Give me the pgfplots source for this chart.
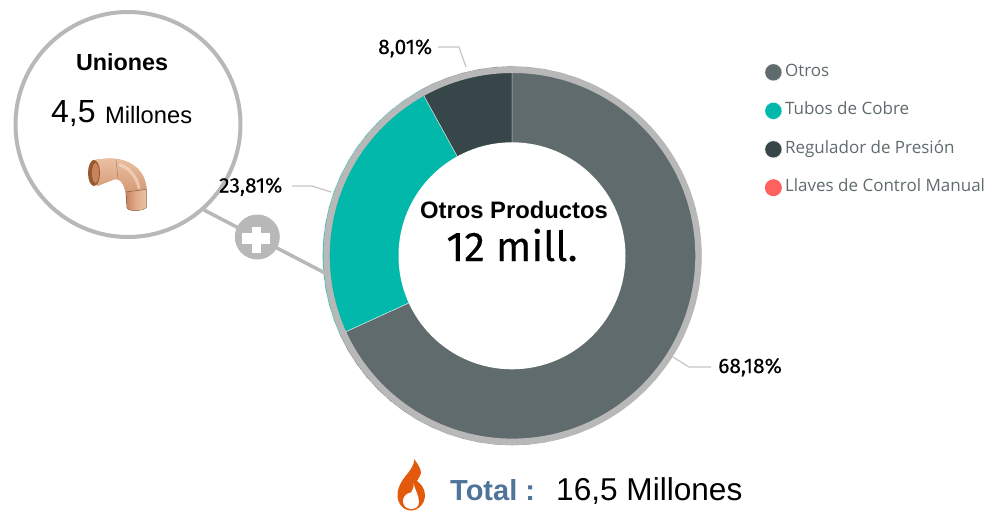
\documentclass[border=0pt]{standalone}
\usepackage{pgfplots}
\pgfplotsset{compat=1.18}
\usepgfplotslibrary{polar}
\usepackage{fontspec}
\setmainfont{Liberation Sans}
\newfontfamily\din[FakeBold=0.2]{Fira Sans}
\newfontfamily\legfont{Open Sans}
\definecolor{otros}{HTML}{5F6B6D}
\definecolor{tubos}{HTML}{01B8AA}
\definecolor{regul}{HTML}{374649}
\definecolor{llaves}{HTML}{FD625E}
\definecolor{anillo}{HTML}{B8B8B8}
\definecolor{guia}{HTML}{C4C4C4}
\definecolor{totalc}{HTML}{4F7499}
\definecolor{cobreA}{HTML}{EBC0A2}
\definecolor{cobreB}{HTML}{C6835C}
\definecolor{cobreC}{HTML}{96592F}
\definecolor{llama}{HTML}{E35A0C}
\newcommand{\fs}[1]{\fontsize{#1}{#1}\selectfont}
\begin{document}
\begin{tikzpicture}[x=1pt,y=1pt]
\path[use as bounding box] (0,0) rectangle (995,-511);
% shares: Otros 68.18, Tubos 23.81, Regulador 8.01, Llaves ~0 (clockwise from 12 o'clock)
\begin{polaraxis}[
    at={(322.5,-445.3)},anchor=south west,
    scale only axis,width=379pt,height=379pt,
    hide axis,
    xmin=0,xmax=360,ymin=0,ymax=189.5,
    legend cell align=left,
    legend image code/.code={\fill[#1] (0pt,0pt) circle[radius=8.5pt];},
    legend style={at={(1.1663,1.0074)},anchor=north west,draw=none,fill=none,
        inner sep=0pt,row sep=21.2pt,
        /tikz/every odd column/.append style={column sep=3pt},
        font=\legfont\fs{17}\color{otros},
        nodes={inner sep=0pt,text height=12pt,text depth=4pt}},
]
\addplot[fill=otros,draw=white,line width=.3pt] coordinates {
    (0,0) (90,189.5) (85,189.5) (80,189.5) (75,189.5) (70,189.5) (65,189.5) (60,189.5) (55,189.5)
    (50,189.5) (45,189.5) (40,189.5) (35,189.5) (30,189.5) (25,189.5) (20,189.5) (15,189.5) (10,189.5)
    (5,189.5) (0,189.5) (-5,189.5) (-10,189.5) (-15,189.5) (-20,189.5) (-25,189.5) (-30,189.5) (-35,189.5)
    (-40,189.5) (-45,189.5) (-50,189.5) (-55,189.5) (-60,189.5) (-65,189.5) (-70,189.5) (-75,189.5)
    (-80,189.5) (-85,189.5) (-90,189.5) (-95,189.5) (-100,189.5) (-105,189.5) (-110,189.5) (-115,189.5)
    (-120,189.5) (-125,189.5) (-130,189.5) (-135,189.5) (-140,189.5) (-145,189.5) (-150,189.5)
    (-155,189.5) (-155.45,189.5) (0,0)};
\addlegendentry{Otros}
\addplot[fill=tubos,draw=white,line width=.3pt] coordinates {
    (0,0) (-155.45,189.5) (-160,189.5) (-165,189.5) (-170,189.5) (-175,189.5) (-180,189.5) (-185,189.5)
    (-190,189.5) (-195,189.5) (-200,189.5) (-205,189.5) (-210,189.5) (-215,189.5) (-220,189.5)
    (-225,189.5) (-230,189.5) (-235,189.5) (-240,189.5) (-241.17,189.5) (0,0)};
\addlegendentry{Tubos de Cobre}
\addplot[fill=regul,draw=white,line width=.3pt] coordinates {
    (0,0) (118.83,189.5) (115,189.5) (110,189.5) (105,189.5) (100,189.5) (95,189.5) (90,189.5) (0,0)};
\addlegendentry{Regulador de Presión}
\addplot[fill=llaves,draw=none] coordinates {(90,0) (90,0)};
\addlegendentry{Llaves de Control Manual}
\end{polaraxis}
\begin{scope}[y=-1pt]
% hole and ring
\fill[white] (512,255.8) circle[radius=113.5];
\draw[anillo,line width=6.4pt] (512.5,255.8) circle[radius=186];
% leader lines
\draw[guia,line width=1.2pt] (438,47) -- (459,47) -- (466,67);
\draw[guia,line width=1.2pt] (292,186) -- (312,186) -- (331,192);
\draw[guia,line width=1.2pt] (673,357) -- (689,367) -- (711,367);
% connector and callout
\draw[anillo,line width=3.5pt] (204,210) -- (325,273);
\fill[white] (128,124.5) circle[radius=112];
\draw[anillo,line width=4pt] (128,124.5) circle[radius=112.5];
\fill[anillo] (257.3,237) circle[radius=22.5];
\fill[white] (242,233) rectangle (270,243.5);
\fill[white] (251.5,226.5) rectangle (261,253);
% elbow
\fill[cobreB,top color=cobreA,bottom color=cobreB]
    (92,160.5) .. controls (100,159) and (108,158) .. (116,159) .. controls (135,161) and (147,175) .. (146.5,191)
    -- (146.5,207) .. controls (146,211) and (128,212) .. (127,208) -- (125.5,192)
    .. controls (124,184) and (120,178) .. (115,179) -- (97,186) -- cycle;
\draw[cobreA!60!white,line width=3pt,opacity=.7,line cap=round]
    (120,165) .. controls (130,168) and (137,178) .. (139,188);
\fill[left color=cobreB,right color=cobreA,middle color=cobreA!70!cobreB]
    (126,192) -- (146.5,189.5) -- (146.5,207) .. controls (146,211) and (128,212) .. (127,208) -- cycle;
\draw[cobreB!80!black,line width=.5pt,opacity=.7] (126,192) -- (146.5,189.5);
\draw[cobreB!80!black,line width=.5pt,opacity=.7] (116,159) -- (118,179);
\fill[cobreC] (94,173) ellipse[x radius=6,y radius=13];
\fill[cobreB] (95.5,173) ellipse[x radius=3.5,y radius=10];
% flame
\fill[llama] (414.3,459.3) .. controls (418,464) and (421,469) .. (421,473) .. controls (421,476) and (418,478) .. (417,481)
    .. controls (420,483) and (425,488) .. (425,495) .. controls (425,504) and (418,510.5) .. (411,510.5)
    .. controls (403,510.5) and (397,503) .. (397.5,494) .. controls (398,485) and (404,478) .. (408,473)
    .. controls (411,469) and (414,465) .. (414.3,459.3) -- cycle;
\fill[white] (413.5,483) .. controls (414,488) and (419,495) .. (419,502) .. controls (419,507) and (415,509) .. (411,509)
    .. controls (406,509) and (402.5,505) .. (403,500) .. controls (403.5,496) and (407,493) .. (411,492.5)
    .. controls (413,490) and (414,487) .. (413.5,483) -- cycle;
% texts
\node[anchor=base,inner sep=0pt,font=\fs{23.3}\bfseries] at (122,70.5) {Uniones};
\node[anchor=base west,inner sep=0pt,font=\fs{32}] at (51,122) {4,5};
\node[anchor=base west,inner sep=0pt,font=\fs{23.7}] at (105,123.5) {Millones};
\node[anchor=base,inner sep=0pt,font=\fs{23.8}\bfseries] at (514,218) {Otros Productos};
\node[anchor=base,inner sep=0pt,font=\din\fs{41.5}] at (512,261) {12 mill.};
\node[anchor=base west,inner sep=0pt,font=\din\fs{21}] at (378,54) {8,01\%};
\node[anchor=base west,inner sep=0pt,font=\din\fs{21}] at (219,192.5) {23,81\%};
\node[anchor=base west,inner sep=0pt,font=\din\fs{21}] at (718,373) {68,18\%};
\node[anchor=base west,inner sep=0pt,font=\fs{29}\bfseries,text=totalc] at (450,500) {Total :};
\node[anchor=base west,inner sep=0pt,font=\fs{31.6}] at (556,500) {16,5 Millones};
\end{scope}
\end{tikzpicture}
\end{document}
